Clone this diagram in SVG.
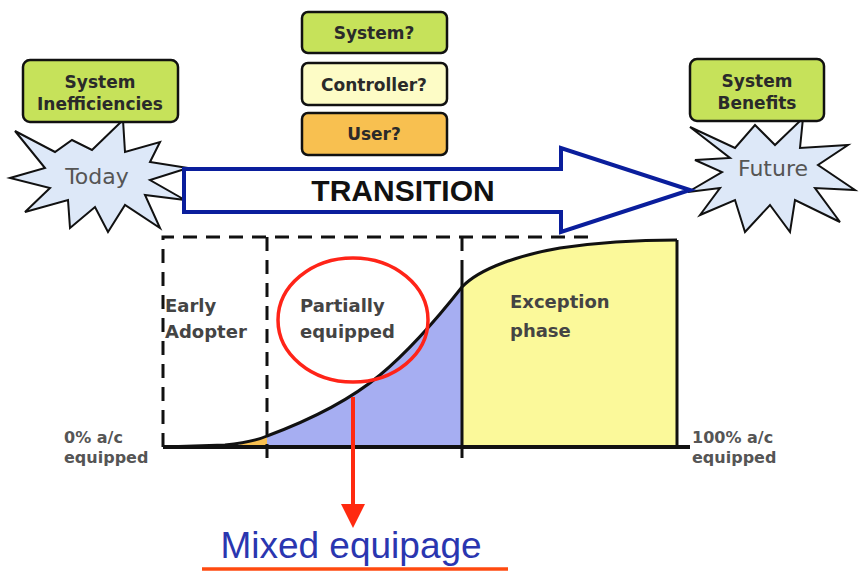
<svg xmlns="http://www.w3.org/2000/svg" width="859" height="572" viewBox="0 0 859 572">
<style>
.box{stroke:#111;stroke-width:2.5}
.btxt{font-family:"DejaVu Sans",Verdana,sans-serif;font-weight:bold;font-size:17px;fill:#2a2a2a;text-anchor:middle}
.star{fill:#dde8f8;stroke:#111;stroke-width:2;stroke-linejoin:miter}
.stxt{font-family:"DejaVu Sans",Verdana,sans-serif;font-size:22px;fill:#555;text-anchor:middle}
.lbl{font-family:"DejaVu Sans",Verdana,sans-serif;font-weight:bold;font-size:18px;fill:#444}
.ax{font-family:"DejaVu Sans",Verdana,sans-serif;font-weight:bold;font-size:16px;fill:#555}
.dash{fill:none;stroke:#111;stroke-width:3;stroke-dasharray:14 9}
.solid{fill:none;stroke:#111;stroke-width:3}
.green{fill:#c6e25a}
</style>
<rect width="859" height="572" fill="#fff"/>

<g id="chart">
<path d="M240,444 L267,436 L267,447 L240,447 Z" fill="#f8c050"/>
<path d="M267,436 C310,420 350,400 380,375 C410,350 440,315 462,287 L462,447 L267,447 Z" fill="#a6aef2"/>
<path d="M462,287 C480,268 520,255 560,248 C600,242 640,240 677,240 L677,447 L462,447 Z" fill="#fbf99a"/>
<path class="solid" d="M163,447 L225,445 C245,443 258,440 267,436 C310,420 350,400 380,375 C410,350 440,315 462,287 C480,268 520,255 560,248 C600,242 640,240 677,240"/>
<line class="solid" x1="677" y1="240" x2="677" y2="447"/>
<line x1="163" y1="447" x2="690" y2="447" stroke="#111" stroke-width="4"/>
<path class="dash" d="M163,447 L163,237 L592,237"/>
<line class="dash" x1="267" y1="237" x2="267" y2="458"/>
<line class="dash" x1="462" y1="237" x2="462" y2="270"/>
<line class="solid" x1="462" y1="270" x2="462" y2="458"/>
<text class="lbl" x="165" y="312">Early</text>
<text class="lbl" x="165" y="338">Adopter</text>
<text class="lbl" x="300" y="312">Partially</text>
<text class="lbl" x="300" y="338">equipped</text>
<text class="lbl" x="510" y="308">Exception</text>
<text class="lbl" x="510" y="337">phase</text>
<text class="ax" x="64" y="443">0% a/c</text>
<text class="ax" x="64" y="463">equipped</text>
<text class="ax" x="692" y="443">100% a/c</text>
<text class="ax" x="692" y="463">equipped</text>
</g>

<g id="partially-circle">
<ellipse cx="353" cy="320" rx="75" ry="62" fill="none" stroke="#ff2418" stroke-width="3.5"/>
</g>

<g id="today">
<polygon class="star" points="15,131 55,152 72,140 92,150 123,120 125,152 160,142 150,162 188,168 150,180 185,200 145,195 160,228 125,205 108,232 95,207 70,228 68,200 25,212 50,188 10,178 45,168"/>
<text class="stxt" x="97" y="184">Today</text>
</g>

<g id="future">
<polygon class="star" points="690,127 735,148 755,125 775,145 803,118 800,148 848,145 818,165 855,190 815,188 840,222 795,200 790,232 770,205 745,232 735,200 700,215 720,188 688,192 722,172 695,160 730,158"/>
<text class="stxt" x="773" y="176">Future</text>
</g>

<g id="system-inefficiencies">
<rect class="box green" x="23" y="60" width="155" height="62" rx="7"/>
<text class="btxt" x="100" y="88">System</text>
<text class="btxt" x="100" y="110">Inefficiencies</text>
</g>

<g id="system-benefits">
<rect class="box green" x="690" y="59" width="134" height="62" rx="7"/>
<text class="btxt" x="757" y="87">System</text>
<text class="btxt" x="757" y="109">Benefits</text>
</g>

<g id="system-q">
<rect class="box green" x="302" y="12" width="145" height="41" rx="6"/>
<text class="btxt" x="374" y="39">System?</text>
</g>
<g id="controller-q">
<rect class="box" x="302" y="63" width="145" height="42" rx="6" fill="#fdfcc6"/>
<text class="btxt" x="374" y="91">Controller?</text>
</g>
<g id="user-q">
<rect class="box" x="302" y="113" width="145" height="42" rx="6" fill="#f8c050"/>
<text class="btxt" x="374" y="140">User?</text>
</g>

<g id="connectors">
<polygon id="transition" points="184,169 561,169 561,148 690,190 561,232 561,212 184,212" fill="#fff" stroke="#0a1e9c" stroke-width="4" stroke-linejoin="miter"/>
<line x1="353" y1="397" x2="353" y2="508" stroke="#ff2a10" stroke-width="4"/>
<polygon points="341,504 365,504 353,528" fill="#ff2a10"/>
</g>
<text x="403" y="201" font-family="'Liberation Sans',Arial,sans-serif" font-weight="bold" font-size="30" fill="#111" text-anchor="middle">TRANSITION</text>

<g id="mixed-equipage">
<text x="351" y="558" font-family="'Liberation Sans',Arial,sans-serif" font-size="37" fill="#2a36b0" text-anchor="middle">Mixed equipage</text>
<line x1="202" y1="569" x2="508" y2="569" stroke="#ff4a10" stroke-width="3.5"/>
</g>
</svg>
